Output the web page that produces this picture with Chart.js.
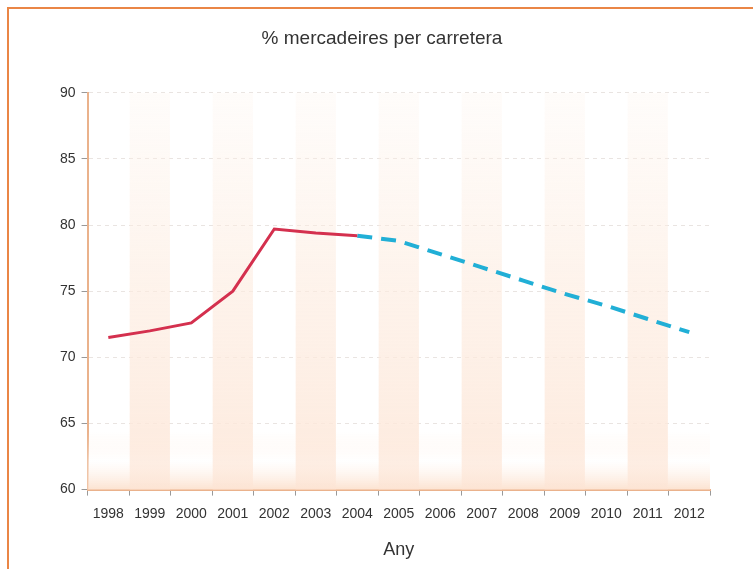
<!DOCTYPE html>
<html lang="ca">
<head>
    <meta charset="UTF-8">
    <title>% mercadeires per carretera</title>
    <script src="https://cdn.jsdelivr.net/npm/chart.js"></script>
    <style>
        html, body { margin: 0; padding: 0; background: #fff; }
        .frame {
            position: absolute; left: 7px; top: 7px; right: 0; bottom: 0;
            border-top: 2px solid #ea8646; border-left: 2px solid #ea8646;
        }
        .chart-box { position: absolute; left: 0; top: 0; width: 753px; height: 569px; }
    </style>
</head>
<body>
    <div class="frame"></div>
    <div class="chart-box"><canvas id="freight-chart" width="753" height="569"></canvas></div>
    <script>
        // Anys i percentatges
        const years = ['1998', '1999', '2000', '2001', '2002', '2003', '2004', '2005',
                       '2006', '2007', '2008', '2009', '2010', '2011', '2012'];
        const realValues = [71.5, 72.0, 72.6, 75.0, 79.7, 79.4, 79.2,
                            null, null, null, null, null, null, null, null];
        const forecastValues = [null, null, null, null, null, null, 79.2,
                                78.8, 77.8, 76.8, 75.8, 74.8, 73.9, 72.9, 71.9];
        // alternate columns shaded (odd years)
        const bandValues = [null, 90, null, 90, null, 90, null, 90,
                            null, 90, null, 90, null, 90, null];
        const yTicks = [60, 65, 70, 75, 80, 85, 90];

        const axisOrange = '#eab28c';
        const labelFont = { family: "'Liberation Sans', Arial, sans-serif", size: 14 };

        function bandFill(context) {
            const area = context.chart.chartArea;
            if (!area) return 'rgba(253,236,224,0.5)';
            const g = context.chart.ctx.createLinearGradient(0, area.top, 0, area.bottom);
            g.addColorStop(0, 'rgba(253,240,230,0.2)');
            g.addColorStop(0.5, 'rgba(253,236,224,0.65)');
            g.addColorStop(0.85, 'rgba(253,232,218,0.8)');
            g.addColorStop(1, 'rgba(253,228,212,0.6)');
            return g;
        }

        // warm haze along the bottom of the plot
        const bottomHaze = {
            id: 'bottomHaze',
            beforeDatasetsDraw(chart) {
                const { ctx, chartArea: a } = chart;
                const top = a.bottom - 58;
                const g = ctx.createLinearGradient(0, top, 0, a.bottom);
                g.addColorStop(0, 'rgba(254,232,216,0)');
                g.addColorStop(0.5, 'rgba(255,255,255,0.5)');
                g.addColorStop(1, 'rgba(252,224,204,0.9)');
                ctx.save();
                ctx.fillStyle = g;
                ctx.fillRect(a.left, top, a.right - a.left, a.bottom - top);
                ctx.restore();
            }
        };

        new Chart(document.getElementById('freight-chart'), {
            data: {
                labels: years,
                datasets: [
                    {
                        type: 'line',
                        label: 'Real',
                        data: realValues,
                        borderColor: '#d4304e',
                        borderWidth: 3,
                        pointRadius: 0,
                        tension: 0,
                        order: 1
                    },
                    {
                        type: 'line',
                        label: 'Previsió',
                        data: forecastValues,
                        borderColor: '#21afd6',
                        borderWidth: 4,
                        borderDash: [15, 9],
                        pointRadius: 0,
                        tension: 0,
                        order: 1
                    },
                    {
                        type: 'bar',
                        label: 'bandes',
                        data: bandValues,
                        backgroundColor: bandFill,
                        borderWidth: 0,
                        categoryPercentage: 1,
                        barPercentage: 0.97,
                        order: 2
                    }
                ]
            },
            options: {
                responsive: false,
                animation: false,
                layout: { padding: { left: 54, right: 43, top: 0, bottom: 8 } },
                plugins: {
                    legend: { display: false },
                    tooltip: { enabled: false },
                    title: {
                        display: true,
                        text: '% mercadeires per carretera',
                        color: '#333',
                        font: { family: "'Liberation Sans', Arial, sans-serif", size: 19, weight: 'normal' },
                        padding: { top: 27, bottom: 43 }
                    }
                },
                scales: {
                    x: {
                        offset: true,
                        grid: {
                            display: true,
                            offset: true,
                            drawOnChartArea: false,
                            tickLength: 6,
                            tickColor: '#999'
                        },
                        border: { color: axisOrange, width: 2 },
                        ticks: { color: '#333', font: labelFont, padding: 10, maxRotation: 0, autoSkip: false },
                        title: {
                            display: true,
                            text: 'Any',
                            color: '#333',
                            font: { family: "'Liberation Sans', Arial, sans-serif", size: 18 },
                            padding: { top: 7, bottom: 0 }
                        }
                    },
                    y: {
                        min: 60,
                        max: 90,
                        afterBuildTicks(axis) {
                            axis.ticks = yTicks.map(v => ({ value: v }));
                        },
                        grid: {
                            color: 'rgba(215,205,200,0.55)',
                            tickColor: '#999',
                            tickLength: 6
                        },
                        border: { color: axisOrange, width: 2, dash: [4, 4] },
                        ticks: { color: '#333', font: labelFont, padding: 6 }
                    }
                }
            },
            plugins: [bottomHaze]
        });
    </script>
</body>
</html>
